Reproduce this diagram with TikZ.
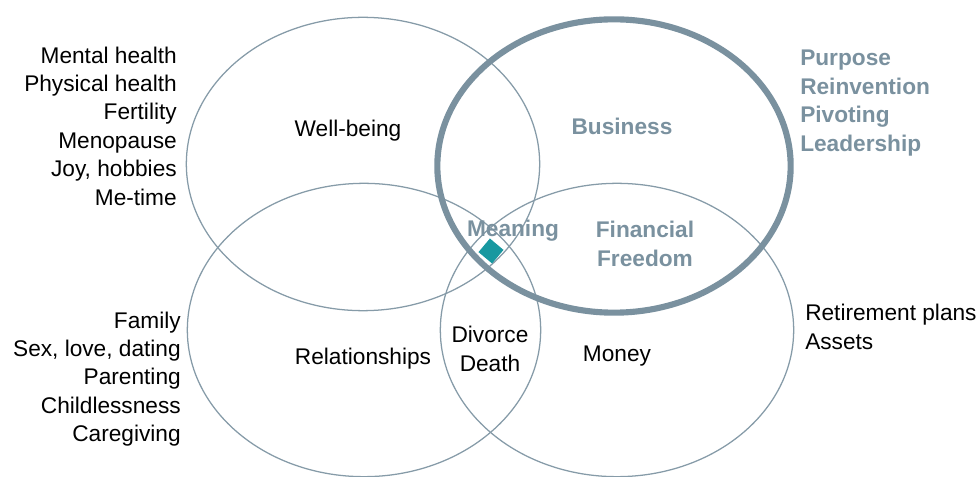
\documentclass[tikz,border=0pt]{standalone}
\usepackage{fontspec}
\setmainfont{Liberation Sans}
\usetikzlibrary{positioning}
\usetikzlibrary{shapes.geometric}

\definecolor{slate}{RGB}{122,145,159}
\definecolor{thinline}{RGB}{134,155,168}
\definecolor{teal}{RGB}{24,152,160}

\begin{document}
\begin{tikzpicture}[%
    x=0.75pt, y=-0.75pt,
    ring/.style={ellipse, draw=thinline, line width=0.95pt, inner sep=0pt, minimum width=265pt, minimum height=220pt},
    bigring/.style={ring, draw=slate, line width=4.6pt},
    topic/.style={font=\fontsize{17}{21.3}\selectfont, align=center, inner sep=0pt},
    keyword/.style={topic, font=\fontsize{17}{21.3}\selectfont\bfseries, text=slate},
    sidelist/.style={topic, align=right, anchor=east},
    marker/.style={diamond, aspect=1, fill=teal, inner sep=0pt, minimum size=19pt, rotate=5}
]

\useasboundingbox (0,0) rectangle (978,477);

% the four circles
\node[ring]      (wellbeing)     at (363,164) {};
\node[ring]      (relations)     at (364,330) {};
\node[ring]      (money)         at (617,330) {};
\node[bigring]   (business)      at (614,166) {};

% labels inside
\node[topic]     (wellbeingtext) at (348,131) {Well-being};
\node[topic]     (relationstext) at (363,359) {Relationships};
\node[topic]     (moneytext)     at (617,356) {Money};
\node[topic]     (divorce)       at (490,349) {Divorce\\Death};
\node[keyword]   (businesstext)  at (622,126) {Business};
\node[keyword]   (freedom)       at (645,244) {Financial\\Freedom};
\node[keyword]   (meaning)       at (513,231) {Meaning};

% centre mark
\node[marker]    (centre)        at (491,251) {};

% side lists
\node[sidelist]  (healthlist)    at (177,126) {Mental health\\Physical health\\Fertility\\Menopause\\Joy, hobbies\\Me-time};
\node[sidelist]  (familylist)    at (181,379) {Family\\Sex, love, dating\\Parenting\\Childlessness\\Caregiving};
\node[keyword, align=left, anchor=west]  (purposelist) at (800,103) {Purpose\\Reinvention\\Pivoting\\Leadership};
\node[topic, align=left, anchor=west]    (assetlist)   at (805,327) {Retirement plans\\Assets};

\end{tikzpicture}
\end{document}
